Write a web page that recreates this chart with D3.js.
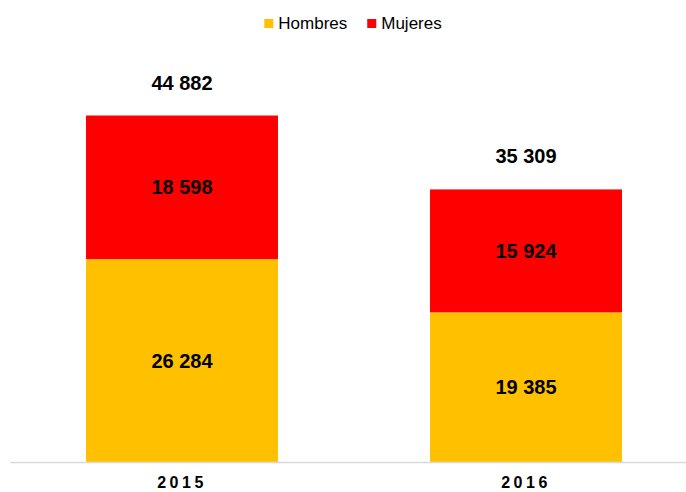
<!DOCTYPE html>
<html>
<head>
<meta charset="utf-8">
<script src="https://cdn.jsdelivr.net/npm/d3@7"></script>
<style>
    body { margin: 0; background: #fff; }
    svg { display: block; font-family: "Liberation Sans", Arial, sans-serif; }
</style>
</head>
<body>
<div id="chart"></div>
<script>
// data
const years = ["2015", "2016"];
const hombres = [26284, 19385];
const mujeres = [18598, 15924];
const seriesNames = ["Hombres", "Mujeres"];
const seriesColors = ["#FFC000", "#FF0000"];

const width = 686, height = 492;
const margin = {top: 76, right: -12, bottom: 30, left: 10};

const fmt = v => d3.format(",")(v).replace(/,/g, " ");

let svg = d3.select("#chart").append("svg")
    .attr("width", width)
    .attr("height", height);

let x = d3.scaleBand()
    .domain(years)
    .range([margin.left, width - margin.right])
    .paddingInner(0.442)
    .paddingOuter(0.221);

let y = d3.scaleLinear()
    .domain([0, 50000])
    .range([height - margin.bottom, margin.top]);

// stack rows
let rows = years.map((yr, i) => ({year: yr, Hombres: hombres[i], Mujeres: mujeres[i]}));
let stack = d3.stack().keys(seriesNames)(rows);

let layers = svg.selectAll(".layer")
    .data(stack)
    .enter().append("g")
    .attr("class", "layer")
    .attr("fill", (d, i) => seriesColors[i]);

layers.selectAll("rect")
    .data(d => d)
    .enter().append("rect")
    .attr("x", d => x(d.data.year))
    .attr("width", x.bandwidth())
    .attr("y", d => y(d[1]))
    .attr("height", d => y(d[0]) - y(d[1]));

// segment labels
layers.selectAll(".seg-label")
    .data(d => d)
    .enter().append("text")
    .attr("class", "seg-label")
    .attr("x", d => x(d.data.year) + x.bandwidth() / 2)
    .attr("y", d => (y(d[0]) + y(d[1])) / 2)
    .attr("dy", "0.36em")
    .attr("text-anchor", "middle")
    .attr("fill", "#000")
    .style("font-size", "20px")
    .style("font-weight", "bold")
    .text(d => fmt(d[1] - d[0]));

// totals
svg.selectAll(".total")
    .data(rows)
    .enter().append("text")
    .attr("class", "total")
    .attr("x", d => x(d.year) + x.bandwidth() / 2)
    .attr("y", d => y(d.Hombres + d.Mujeres) - 26)
    .attr("text-anchor", "middle")
    .style("font-size", "20px")
    .style("font-weight", "bold")
    .text(d => fmt(d.Hombres + d.Mujeres));

// x axis
let xAxis = svg.append("g")
    .attr("transform", `translate(0, ${y(0)})`)
    .call(d3.axisBottom(x).tickSize(0).tickPadding(15));

xAxis.select(".domain")
    .attr("stroke", "#d9d9d9")
    .attr("stroke-width", 1.5);

xAxis.selectAll("text")
    .attr("fill", "#000")
    .style("font-family", "'Liberation Sans', Arial, sans-serif")
    .style("font-size", "16px")
    .style("font-weight", "bold")
    .style("letter-spacing", "3.5px");

// legend
let legend = svg.append("g").attr("class", "legend");
let cursor = 0;
seriesNames.forEach((name, i) => {
    let item = legend.append("g").attr("transform", `translate(${cursor}, 0)`);
    item.append("rect")
        .attr("y", -10)
        .attr("width", 9)
        .attr("height", 9)
        .attr("fill", seriesColors[i]);
    let t = item.append("text")
        .attr("x", 14)
        .style("font-size", "17px")
        .attr("fill", "#000")
        .text(name);
    cursor += 14 + t.node().getComputedTextLength() + 20;
});
let legendWidth = cursor - 20;
legend.attr("transform", `translate(${353 - legendWidth / 2}, 29)`);
</script>
</body>
</html>
